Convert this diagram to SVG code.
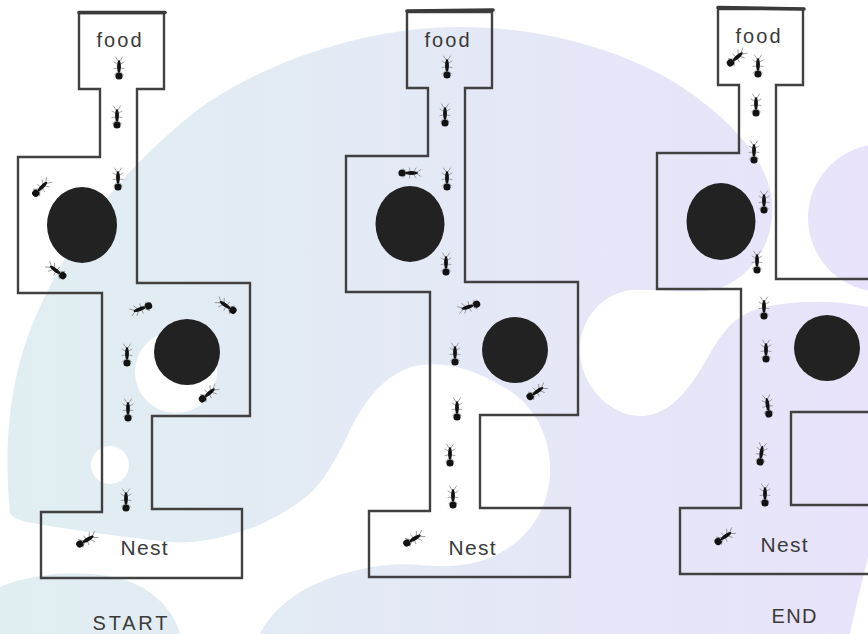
<svg xmlns="http://www.w3.org/2000/svg" xmlns:xlink="http://www.w3.org/1999/xlink" width="868" height="634" viewBox="0 0 868 634">
  <style>
    .wall { fill: none; stroke: #414141; stroke-width: 2.4; stroke-linejoin: miter; }
    .lid { fill: none; stroke: #3a3a3a; stroke-width: 3.6; stroke-linecap: round; }
    .rock { fill: #222222; }
    .hole { fill: #ffffff; }
    .blob { fill: url(#wash); }
    .label { font-family: "Liberation Sans", "DejaVu Sans", sans-serif; fill: #3a3a3a; }
    .leg { stroke: #8a8a8a; stroke-width: 0.8; fill: none; stroke-linecap: round; }
    .body { fill: #121212; }
  </style>
  <defs>
    <linearGradient id="wash" gradientUnits="userSpaceOnUse" x1="0" y1="0" x2="868" y2="0">
      <stop offset="0" stop-color="#e0eef1"/>
      <stop offset="0.5" stop-color="#e4e9f6"/>
      <stop offset="1" stop-color="#e8e3fa"/>
    </linearGradient>
    <!-- one ant, pointing up, centred on the origin -->
    <g id="ant">
      <path class="leg" d="M-0.9,-9 L-3.5,-13 M0.9,-9 L3.5,-13 M-1.2,-5.5 L-5,-8 M1.2,-5.5 L5,-8 M-1.2,-2 L-5,-1.5 M1.2,-2 L5,-1.5 M-1.2,1.5 L-4.5,5 M1.2,1.5 L4.5,5"/>
      <ellipse class="body" cx="0" cy="-3.5" rx="1.9" ry="6.5"/>
      <circle class="body" cx="0" cy="6" r="3.6"/>
    </g>
    <!-- maze outline: food room, corridor, two side rooms, nest -->
    <path id="maze" d="M79,13 L164,13 L164,89 L137,89 L137,283 L250,283 L250,416 L152,416 L152,509 L242,509 L242,578 L41,578 L41,512 L102,512 L102,293 L18,293 L18,157 L100,157 L100,89 L79,89 Z"/>
  </defs>

  <!-- background wash -->
  <rect width="868" height="634" fill="#ffffff"/>
  <g id="backdrop">
    <path class="blob" d="M10,513 C3,440 10,370 40,307 C70,240 120,170 200,108 C260,65 360,27 460,27 C560,27 650,60 700,100 C740,130 768,165 772,200 C775,235 760,270 723,287 C700,296 660,288 630,290 C600,295 580,320 580,350 C580,385 610,418 645,416 C680,412 700,370 715,345 C728,325 740,314 760,308 C795,300 835,300 868,307 L868,557 C860,590 855,610 850,634 L260,634 C270,612 295,590 333,577 C360,568 390,562 420,565 C450,568 480,566 505,550 C535,532 552,500 550,463 C548,430 530,400 500,385 C475,370 445,360 415,366 C385,374 365,400 350,430 C335,462 320,490 295,505 C275,518 258,527 242,531 C215,540 190,544 170,542 C130,538 70,530 33,523 C20,521 12,517 10,513 Z"/>
    <path class="blob" d="M0,587 C30,574 90,566 133,583 C160,595 175,615 180,634 L0,634 Z"/>
    <circle class="blob" cx="882" cy="218" r="74"/>
    <circle class="hole" cx="110" cy="465" r="19"/>
    <circle class="hole" cx="176" cy="372" r="41"/>
  </g>

  <!-- START maze -->
  <g id="maze-start">
    <use xlink:href="#maze" class="wall"/>
    <line class="lid" x1="79" y1="12.5" x2="165" y2="12.5"/>
    <ellipse class="rock" cx="82" cy="225" rx="35" ry="38"/>
    <circle class="rock" cx="187" cy="352" r="33"/>
    <g id="ants-start">
      <use xlink:href="#ant" transform="translate(119,70)"/>
      <use xlink:href="#ant" transform="translate(117,119)"/>
      <use xlink:href="#ant" transform="translate(118,181)"/>
      <use xlink:href="#ant" transform="translate(40,189) rotate(45)"/>
      <use xlink:href="#ant" transform="translate(58,272) rotate(-53)"/>
      <use xlink:href="#ant" transform="translate(143,308) rotate(-110)"/>
      <use xlink:href="#ant" transform="translate(228,307) rotate(-56)"/>
      <use xlink:href="#ant" transform="translate(127,357)"/>
      <use xlink:href="#ant" transform="translate(207,395) rotate(50)"/>
      <use xlink:href="#ant" transform="translate(128,412)"/>
      <use xlink:href="#ant" transform="translate(126,502)"/>
      <use xlink:href="#ant" transform="translate(85,541) rotate(60)"/>
    </g>
    <text class="label" x="119" y="47" font-size="20" text-anchor="middle" textLength="45" lengthAdjust="spacing">food</text>
    <text class="label" x="144" y="555" font-size="21" text-anchor="middle" textLength="47" lengthAdjust="spacing">Nest</text>
    <text class="label" x="130" y="630" font-size="20" text-anchor="middle" textLength="75" lengthAdjust="spacing">START</text>
  </g>

  <!-- middle maze -->
  <g id="maze-middle">
    <use xlink:href="#maze" class="wall" transform="translate(328,-1)"/>
    <line class="lid" x1="407" y1="11" x2="493" y2="10"/>
    <ellipse class="rock" cx="410" cy="224" rx="34.5" ry="38"/>
    <circle class="rock" cx="515" cy="350" r="33"/>
    <g id="ants-middle">
      <use xlink:href="#ant" transform="translate(447,69)"/>
      <use xlink:href="#ant" transform="translate(445,117)"/>
      <use xlink:href="#ant" transform="translate(447,181)"/>
      <use xlink:href="#ant" transform="translate(408,173) rotate(90)"/>
      <use xlink:href="#ant" transform="translate(446,266)"/>
      <use xlink:href="#ant" transform="translate(471,306) rotate(-108)"/>
      <use xlink:href="#ant" transform="translate(455,356)"/>
      <use xlink:href="#ant" transform="translate(457,411)"/>
      <use xlink:href="#ant" transform="translate(450,457)"/>
      <use xlink:href="#ant" transform="translate(453,499)"/>
      <use xlink:href="#ant" transform="translate(535,393) rotate(55)"/>
      <use xlink:href="#ant" transform="translate(412,540) rotate(60)"/>
    </g>
    <text class="label" x="447" y="47" font-size="20" text-anchor="middle" textLength="45" lengthAdjust="spacing">food</text>
    <text class="label" x="472" y="555" font-size="21" text-anchor="middle" textLength="47" lengthAdjust="spacing">Nest</text>
  </g>

  <!-- END maze (runs off the right edge) -->
  <g id="maze-end">
    <use xlink:href="#maze" class="wall" transform="translate(639,-4)"/>
    <line class="lid" x1="718" y1="7.5" x2="804" y2="9"/>
    <ellipse class="rock" cx="721" cy="221.5" rx="34.5" ry="38.5"/>
    <circle class="rock" cx="827" cy="348" r="33"/>
    <g id="ants-end">
      <use xlink:href="#ant" transform="translate(735,59) rotate(50)"/>
      <use xlink:href="#ant" transform="translate(758,68)"/>
      <use xlink:href="#ant" transform="translate(756,107)"/>
      <use xlink:href="#ant" transform="translate(754,154)"/>
      <use xlink:href="#ant" transform="translate(764,204)"/>
      <use xlink:href="#ant" transform="translate(757,264)"/>
      <use xlink:href="#ant" transform="translate(764,310)"/>
      <use xlink:href="#ant" transform="translate(766,353)"/>
      <use xlink:href="#ant" transform="translate(768,408) rotate(-8)"/>
      <use xlink:href="#ant" transform="translate(761,456) rotate(8)"/>
      <use xlink:href="#ant" transform="translate(765,497)"/>
      <use xlink:href="#ant" transform="translate(723,538) rotate(55)"/>
    </g>
    <text class="label" x="758" y="43" font-size="20" text-anchor="middle" textLength="45" lengthAdjust="spacing">food</text>
    <text class="label" x="784" y="552" font-size="21" text-anchor="middle" textLength="47" lengthAdjust="spacing">Nest</text>
    <text class="label" x="794" y="623" font-size="20" text-anchor="middle" textLength="45" lengthAdjust="spacing">END</text>
  </g>
</svg>
